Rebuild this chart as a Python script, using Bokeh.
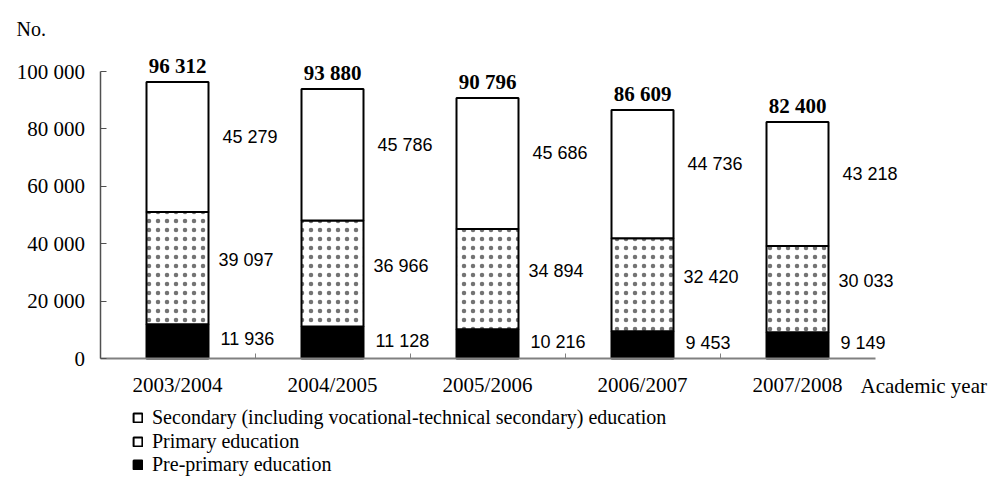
from bokeh.plotting import figure
from bokeh.models import (ColumnDataSource, FixedTicker, Legend, LegendItem, Label,
                          LabelSet, Range1d)
from bokeh.embed import file_html
from bokeh.resources import INLINE
from bokeh.core.properties import value

years = ["2003/2004", "2004/2005", "2005/2006", "2006/2007", "2007/2008"]
pre_primary = [11936, 11128, 10216, 9453, 9149]
primary = [39097, 36966, 34894, 32420, 30033]
secondary = [45279, 45786, 45686, 44736, 43218]
totals = [96312, 93880, 90796, 86609, 82400]
y_ticks = [0, 20000, 40000, 60000, 80000, 100000]
y_tick_labels = ["0", "20 000", "40 000", "60 000", "80 000", "100 000"]
series_names = ["Secondary (including vocational-technical secondary) education",
                "Primary education", "Pre-primary education"]
y_axis_title = "No."
x_axis_title = "Academic year"


def fmt(v):
    return f"{v:,}".replace(",", " ")


xs = [i + 1 for i in range(len(years))]
t1 = [a + b for a, b in zip(pre_primary, primary)]
t2 = [a + b for a, b in zip(t1, secondary)]

src = ColumnDataSource(dict(
    x=xs,
    xl=[x + 0.2 for x in xs],
    zero=[0] * len(xs),
    t0=pre_primary, t1=t1, t2=t2,
    m0=[v / 2 for v in pre_primary],
    m1=[a + b / 2 for a, b in zip(pre_primary, primary)],
    m2=[a + b / 2 for a, b in zip(t1, secondary)],
    l0=[fmt(v) for v in pre_primary],
    l1=[fmt(v) for v in primary],
    l2=[fmt(v) for v in secondary],
    tot=totals,
    ltot=[fmt(v) for v in totals],
))

SERIF = "Liberation Serif"
SANS = "Liberation Sans"

W, H = 997, 488
PX_X = 155.0          # pixels per category
X0_PX = 99.5          # pixel of x = 0.5
PX_Y = 100000 / 287.0  # data units per pixel
Y0_PX = 358.0         # pixel of y = 0

x_start = 0.5 - X0_PX / PX_X
x_end = 0.5 + (W - X0_PX) / PX_X
y_start = -(H - Y0_PX) * PX_Y
y_end = Y0_PX * PX_Y

p = figure(width=W, height=H,
           x_range=Range1d(x_start, x_end), y_range=Range1d(y_start, y_end),
           output_backend="svg", toolbar_location=None,
           min_border=0, min_border_left=0, min_border_right=0,
           min_border_top=0, min_border_bottom=0)
p.outline_line_color = None
p.xgrid.visible = False
p.ygrid.visible = False
p.background_fill_color = "white"
p.border_fill_color = "white"

# bars
r_pre = p.vbar(x="x", bottom="zero", top="t0", width=0.4, source=src,
               fill_color="black", line_color="black", line_width=2)
r_pri = p.vbar(x="x", bottom="t0", top="t1", width=0.4, source=src,
               fill_color="white", line_color="black", line_width=2,
               hatch_pattern=".", hatch_color="black", hatch_scale=9,
               hatch_weight=1, hatch_alpha=0.55)
r_sec = p.vbar(x="x", bottom="t1", top="t2", width=0.4, source=src,
               fill_color="white", line_color="black", line_width=2)

# value labels
for mcol, lcol, dy, dx in (("m0", "l0", 2, 12), ("m1", "l1", 8, 10), ("m2", "l2", 10, 14)):
    p.add_layout(LabelSet(x="xl", y=mcol, text=lcol, source=src,
                          x_offset=dx, y_offset=dy, text_align="left",
                          text_baseline="middle", text_font=value(SANS),
                          text_font_size="18px", text_color="black"))

p.add_layout(LabelSet(x="x", y="tot", text="ltot", source=src, y_offset=4,
                      text_align="center", text_baseline="bottom",
                      text_font=value(SERIF), text_font_style="bold",
                      text_font_size="21px", text_color="black"))

# axes drawn at fixed locations inside the full-canvas frame
xa = p.xaxis[0]
xa.fixed_location = 0
xa.bounds = (xs[0] - 0.5, xs[-1] + 0.5)
xa.ticker = FixedTicker(ticks=xs, minor_ticks=[x + 0.5 for x in xs[:-1]])
xa.major_label_overrides = {x: y for x, y in zip(xs, years)}
xa.major_tick_in = 0
xa.major_tick_out = 0
xa.minor_tick_in = 5
xa.minor_tick_out = 0
xa.minor_tick_line_color = "#808080"
xa.minor_tick_line_width = 1
xa.axis_line_color = "#808080"
xa.axis_line_width = 2
xa.major_label_standoff = 14
xa.major_label_text_font = SERIF
xa.major_label_text_font_size = "21px"
xa.major_label_text_color = "black"

ya = p.yaxis[0]
ya.fixed_location = xs[0] - 0.5
ya.bounds = (y_ticks[0], y_ticks[-1])
ya.ticker = FixedTicker(ticks=y_ticks)
ya.major_label_overrides = {t: l for t, l in zip(y_ticks, y_tick_labels)}
ya.major_tick_in = 6
ya.major_tick_out = 0
ya.minor_tick_line_color = None
ya.axis_line_color = "#505050"
ya.axis_line_width = 1.5
ya.major_tick_line_color = "#505050"
ya.major_label_standoff = 15
ya.major_label_text_font = SERIF
ya.major_label_text_font_size = "21px"
ya.major_label_text_color = "black"

p.add_layout(Label(x=0.5 + (16 - X0_PX) / PX_X, y=(Y0_PX - 28) * PX_Y,
                   text=y_axis_title, text_baseline="middle", text_align="left",
                   text_font=SERIF, text_font_size="20px", text_color="black"))
p.add_layout(Label(x=0.5 + (860 - X0_PX) / PX_X, y=-(385 - Y0_PX) * PX_Y,
                   text=x_axis_title, text_baseline="middle", text_align="left",
                   text_font=SERIF, text_font_size="21px", text_color="black"))

# legend: one row per entry so the rows sit as tightly as in the reference
legend_renderers = [r_sec, r_sec, r_pre]
legend_row_px = [417, 440.5, 464]
for name, rend, cy in zip(series_names, legend_renderers, legend_row_px):
    lg = Legend(items=[LegendItem(label=name, renderers=[rend])],
                location=(132, H - cy - 12), orientation="vertical",
                glyph_width=11, glyph_height=11, label_standoff=9,
                spacing=0, padding=0, margin=0, label_height=20,
                label_text_font=SERIF, label_text_font_size="20px",
                label_text_color="black", border_line_alpha=0,
                background_fill_alpha=0)
    p.add_layout(lg, "center")

open("out.html", "w").write(file_html(p, INLINE))
